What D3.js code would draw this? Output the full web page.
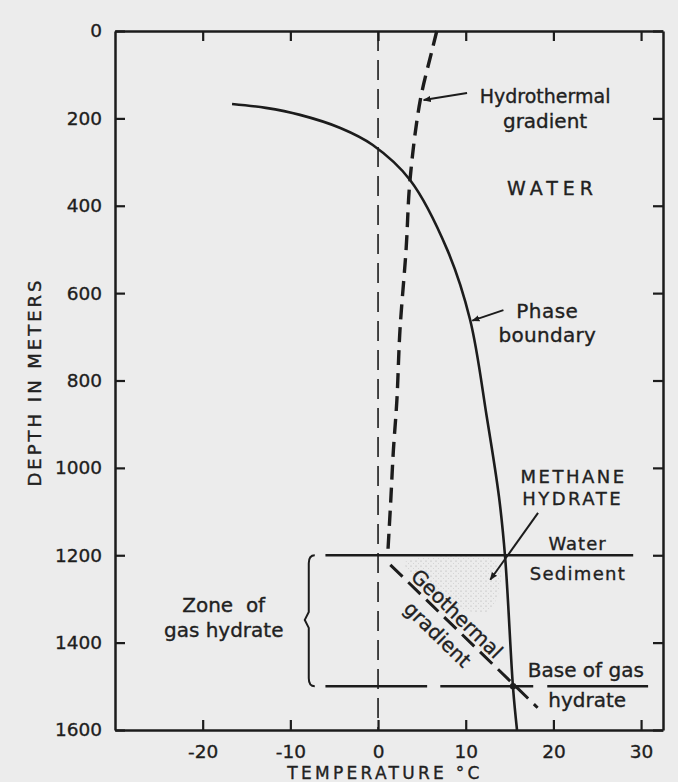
<!DOCTYPE html>
<html>
<head>
<meta charset="utf-8">
<script src="https://cdn.jsdelivr.net/npm/d3@7"></script>
<style>
  body { margin: 0; background: #ececec; }
  svg { display: block; font-family: "DejaVu Sans", sans-serif; }
  text { stroke: #1e1e1e; stroke-width: 0.35px; }
</style>
</head>
<body>
<div id="chart"></div>
<script>
// values: depth in metres, temperature in deg C
var phaseDepth = [167, 176, 192, 222, 261, 341, 501, 661, 883, 1067, 1206, 1504, 1600];
var phaseTemp  = [-16.65, -12.8, -8.9, -4.3, -0.6, 3.65, 7.9, 10.5, 12.4, 13.8, 14.5, 15.4, 15.85];

var hydroDepth = [0, 45, 160, 340, 500, 685, 845, 960, 1075, 1200];
var hydroTemp  = [6.7, 6.15, 4.8, 3.65, 3.2, 2.5, 2.15, 1.75, 1.45, 1.1];

var geoDepth = [1222, 1549];
var geoTemp  = [1.4, 18.2];

var seafloorDepth = 1200;
var seafloorTemp = [-6, 29.1];
var baseDepth = 1500;
var baseSegments = [[-6, 5.6], [7.1, 17.7], [19.3, 30.8]];

// stippled hydrate zone (temp, depth)
var zoneTemp  = [3.4, 13.3, 12.8, 8.2, 5.4];
var zoneDepth = [1212, 1212, 1325, 1314, 1268];

var xTicks = [-20, -10, 0, 10, 20, 30];
var xTickLabels = ["-20", "-10", "0", "10", "20", "30"];
var yTicks = [0, 200, 400, 600, 800, 1000, 1200, 1400, 1600];
var yTickLabels = ["0", "200", "400", "600", "800", "1000", "1200", "1400", "1600"];

function main() {
  var W = 678, H = 782;
  var ink = "#1c1c1c";

  var svg = d3.select("#chart").append("svg")
    .attr("width", W)
    .attr("height", H);

  svg.append("rect").attr("width", W).attr("height", H).attr("fill", "#ececec");

  // scales
  var x = d3.scaleLinear().domain([-30, 32.5]).range([115, 663]);
  var y = d3.scaleLinear().domain([0, 1600]).range([31, 730]);

  var defs = svg.append("defs");
  defs.append("marker")
    .attr("id", "arrow")
    .attr("viewBox", "0 0 10 10")
    .attr("refX", 9).attr("refY", 5)
    .attr("markerWidth", 4).attr("markerHeight", 4)
    .attr("orient", "auto")
    .append("path")
    .attr("d", "M0,1 L10,5 L0,9 Z")
    .attr("fill", ink);

  var pat = defs.append("pattern")
    .attr("id", "stipple")
    .attr("width", 5).attr("height", 5)
    .attr("patternUnits", "userSpaceOnUse");
  pat.append("circle").attr("cx", 1).attr("cy", 1).attr("r", 0.6).attr("fill", "#a8a8a8");
  pat.append("circle").attr("cx", 3.5).attr("cy", 3.5).attr("r", 0.45).attr("fill", "#bdbdbd");

  // stippled zone
  var zone = d3.range(zoneTemp.length).map(function(i){ return [x(zoneTemp[i]), y(zoneDepth[i])]; });
  svg.append("path")
    .attr("d", d3.line().curve(d3.curveCardinalClosed)(zone))
    .attr("fill", "url(#stipple)");

  // axes, ticks inward
  svg.append("g")
    .attr("transform", "translate(0," + y(1600) + ")")
    .call(d3.axisBottom(x).tickValues(xTicks).tickSizeInner(-10).tickSizeOuter(0).tickPadding(15)
      .tickFormat(function(d, i){ return xTickLabels[i]; }))
    .call(styleAxis);

  svg.append("g")
    .attr("transform", "translate(0," + y(0) + ")")
    .call(d3.axisTop(x).tickValues(xTicks).tickSizeInner(-10).tickSizeOuter(0).tickFormat(""))
    .call(styleAxis);

  svg.append("g")
    .attr("transform", "translate(" + x(-30) + ",0)")
    .call(d3.axisLeft(y).tickValues(yTicks).tickSizeInner(-10).tickSizeOuter(0).tickPadding(13)
      .tickFormat(function(d, i){ return yTickLabels[i]; }))
    .call(styleAxis);

  svg.append("g")
    .attr("transform", "translate(" + x(32.5) + ",0)")
    .call(d3.axisRight(y).tickValues(yTicks).tickSizeInner(-10).tickSizeOuter(0).tickFormat(""))
    .call(styleAxis);

  function styleAxis(g) {
    g.select(".domain").attr("stroke", ink).attr("stroke-width", 2.5);
    g.selectAll(".tick line").attr("stroke", ink).attr("stroke-width", 2.2);
    g.selectAll(".tick text")
      .attr("fill", "#1e1e1e")
      .attr("font-size", "18.5px")
      .attr("font-family", "DejaVu Sans, sans-serif");
  }

  // 0 deg C dashed line
  svg.append("line")
    .attr("x1", x(0)).attr("x2", x(0))
    .attr("y1", y(0)).attr("y2", y(1600))
    .attr("stroke", ink).attr("stroke-width", 1.6)
    .attr("stroke-dasharray", "20 9");

  // seafloor line at 1200 m
  svg.append("line")
    .attr("x1", x(seafloorTemp[0])).attr("x2", x(seafloorTemp[1]))
    .attr("y1", y(seafloorDepth)).attr("y2", y(seafloorDepth))
    .attr("stroke", ink).attr("stroke-width", 2.5);

  // base of gas hydrate, broken line
  svg.append("g").selectAll("line")
    .data(baseSegments)
    .enter().append("line")
    .attr("x1", function(d){ return x(d[0]); })
    .attr("x2", function(d){ return x(d[1]); })
    .attr("y1", y(baseDepth)).attr("y2", y(baseDepth))
    .attr("stroke", ink).attr("stroke-width", 2.5);

  // phase boundary
  var phaseLine = d3.line()
    .x(function(i){ return x(phaseTemp[i]); })
    .y(function(i){ return y(phaseDepth[i]); })
    .curve(d3.curveCatmullRom.alpha(0.5));
  svg.append("path")
    .attr("d", phaseLine(d3.range(phaseDepth.length)))
    .attr("fill", "none").attr("stroke", ink).attr("stroke-width", 2.6);

  // hydrothermal gradient
  var hydroLine = d3.line()
    .x(function(i){ return x(hydroTemp[i]); })
    .y(function(i){ return y(hydroDepth[i]); })
    .curve(d3.curveCatmullRom.alpha(0.5));
  svg.append("path")
    .attr("d", hydroLine(d3.range(hydroDepth.length)))
    .attr("fill", "none").attr("stroke", ink).attr("stroke-width", 3.4)
    .attr("stroke-dasharray", "15 8");

  // geothermal gradient
  svg.append("line")
    .attr("x1", x(geoTemp[0])).attr("y1", y(geoDepth[0]))
    .attr("x2", x(geoTemp[1])).attr("y2", y(geoDepth[1]))
    .attr("stroke", ink).attr("stroke-width", 3)
    .attr("stroke-dasharray", "17 8");

  // intersection dot at base of hydrate
  svg.append("circle")
    .attr("cx", x(15.4)).attr("cy", y(baseDepth)).attr("r", 3.2).attr("fill", ink);

  // arrows
  var arrows = [
    [10.15, 142, 5.2, 158],
    [14.3, 639, 10.75, 663],
    [18.25, 1103, 12.8, 1256]
  ];
  svg.append("g").selectAll("line")
    .data(arrows)
    .enter().append("line")
    .attr("x1", function(d){ return x(d[0]); })
    .attr("y1", function(d){ return y(d[1]); })
    .attr("x2", function(d){ return x(d[2]); })
    .attr("y2", function(d){ return y(d[3]); })
    .attr("stroke", ink).attr("stroke-width", 2)
    .attr("marker-end", "url(#arrow)");

  // text labels: [text, temp, depth, size, letterSpacing]
  var labels = [
    ["Hydrothermal", 19.05, 165, 19, 0],
    ["gradient", 19.05, 222, 20, 0],
    ["WATER", 19.9, 375, 19, 5],
    ["Phase", 19.3, 657, 20, 0.5],
    ["boundary", 19.3, 712, 20, 0.3],
    ["METHANE", 22.3, 1035, 18, 2.5],
    ["HYDRATE", 22.2, 1085, 18, 2.5],
    ["Water", 22.75, 1188, 18, 1],
    ["Sediment", 22.8, 1257, 18, 1.3],
    ["Zone  of", -17.6, 1330, 20, 0],
    ["gas hydrate", -17.6, 1387, 20, 0],
    ["Base of gas", 23.7, 1479, 20, 0],
    ["hydrate", 23.85, 1547, 20, 0]
  ];
  svg.append("g").selectAll("text")
    .data(labels)
    .enter().append("text")
    .attr("x", function(d){ return x(d[1]); })
    .attr("y", function(d){ return y(d[2]); })
    .attr("text-anchor", "middle")
    .attr("font-size", function(d){ return d[3] + "px"; })
    .attr("letter-spacing", function(d){ return d[4]; })
    .attr("fill", "#222")
    .style("white-space", "pre")
    .text(function(d){ return d[0]; });

  // rotated geothermal labels
  var ang = Math.atan2(y(geoDepth[1]) - y(geoDepth[0]), x(geoTemp[1]) - x(geoTemp[0])) * 180 / Math.PI;
  var geoLabels = [["Geothermal", 9.0, 1334], ["gradient", 6.79, 1381]];
  svg.append("g").selectAll("text")
    .data(geoLabels)
    .enter().append("text")
    .attr("transform", function(d){ return "translate(" + x(d[1]) + "," + y(d[2]) + ") rotate(" + ang + ")"; })
    .attr("text-anchor", "middle")
    .attr("dominant-baseline", "central")
    .attr("font-size", "20px")
    .attr("fill", "#222")
    .text(function(d){ return d[0]; });

  // curly brace for the zone of gas hydrate
  var bx = x(-7.9), top = y(seafloorDepth), bot = y(baseDepth), mid = y(1348);
  var brace = "M" + (bx + 6) + "," + top +
    " Q" + bx + "," + top + " " + bx + "," + (top + 8) +
    " L" + bx + "," + (mid - 8) +
    " L" + (bx - 4) + "," + mid +
    " L" + bx + "," + (mid + 8) +
    " L" + bx + "," + (bot - 8) +
    " Q" + bx + "," + bot + " " + (bx + 6) + "," + bot;
  svg.append("path").attr("d", brace).attr("fill", "none").attr("stroke", ink).attr("stroke-width", 2);

  // axis titles
  svg.append("text")
    .attr("x", 385).attr("y", 779)
    .attr("text-anchor", "middle")
    .attr("font-size", "17px")
    .attr("letter-spacing", 3.3)
    .attr("fill", "#222")
    .text("TEMPERATURE °C");

  svg.append("text")
    .attr("transform", "translate(41,382) rotate(-90)")
    .attr("text-anchor", "middle")
    .attr("font-size", "18px")
    .attr("letter-spacing", 3)
    .attr("fill", "#222")
    .text("DEPTH IN METERS");
}
main();
</script>
</body>
</html>
